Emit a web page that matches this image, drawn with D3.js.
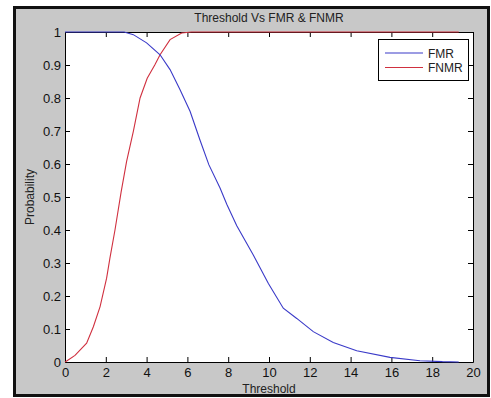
<!DOCTYPE html>
<html>
<head>
<meta charset="utf-8">
<script src="https://cdn.jsdelivr.net/npm/d3@7"></script>
<style>
  html, body { margin: 0; padding: 0; background: #fff; }
  svg { display: block; font-family: "Liberation Sans", Arial, sans-serif; }
</style>
</head>
<body>
<div id="chart"></div>
<script>
// FMR / FNMR curves (threshold, probability)
const fmrThreshold = [0, 1, 2, 2.9, 3.35, 4.0, 4.66, 5.15, 5.64, 6.13, 6.62, 7.05, 7.6, 7.93, 8.42, 9.23, 9.97, 10.7, 11.36, 12.17, 13.15, 14.3, 15.93, 17.4, 18.5, 19.3];
const fmrValues    = [1, 1, 1, 1, 0.992, 0.967, 0.931, 0.886, 0.825, 0.76, 0.672, 0.598, 0.527, 0.478, 0.413, 0.324, 0.238, 0.163, 0.132, 0.092, 0.059, 0.034, 0.014, 0.004, 0.001, 0];

const fnmrThreshold = [0, 0.1, 0.49, 1.06, 1.39, 1.72, 2.04, 2.2, 2.45, 2.75, 3.02, 3.35, 3.68, 4.03, 4.4, 4.66, 5.15, 5.72, 6.2, 19.3];
const fnmrValues    = [0, 0.004, 0.02, 0.057, 0.107, 0.168, 0.254, 0.314, 0.4, 0.515, 0.608, 0.699, 0.8, 0.86, 0.9, 0.931, 0.977, 0.997, 1, 1];

const xTicks = d3.range(0, 21, 2);
const yTicks = d3.range(0, 11).map(i => i / 10);

const seriesNames = ['FMR', 'FNMR'];
const seriesColors = ['#3a3ac8', '#d0303f'];

const width = 491, height = 398;
const margin = { top: 32, right: 18, bottom: 36, left: 65 };
const innerW = width - margin.left - margin.right;
const innerH = height - margin.top - margin.bottom;

const svg = d3.select('#chart').append('svg')
  .attr('width', width)
  .attr('height', height);

// figure background with dark frame
svg.append('rect')
  .attr('x', 14.5).attr('y', 7.5)
  .attr('width', 474).attr('height', 388)
  .attr('fill', '#c8c8c8')
  .attr('stroke', '#111')
  .attr('stroke-width', 3);

const g = svg.append('g')
  .attr('transform', `translate(${margin.left},${margin.top})`);

const x = d3.scaleLinear().domain([0, 20]).range([0, innerW]);
const y = d3.scaleLinear().domain([0, 1]).range([innerH, 0]);

g.append('rect')
  .attr('width', innerW).attr('height', innerH)
  .attr('fill', '#fff');

// axes, matlab style ticks pointing inward on all four sides
const tickFont = g => g.selectAll('text')
  .attr('fill', '#111')
  .style('font-size', '13px');

g.append('g')
  .attr('transform', `translate(0,${innerH})`)
  .call(d3.axisBottom(x).tickValues(xTicks).tickSizeInner(-5).tickSizeOuter(0).tickPadding(6))
  .call(tickFont)
  .call(a => a.select('.domain').attr('stroke', '#000'));

g.append('g')
  .call(d3.axisTop(x).tickValues(xTicks).tickSizeInner(-5).tickSizeOuter(0).tickFormat(''))
  .call(a => a.select('.domain').attr('stroke', '#000'));

g.append('g')
  .call(d3.axisLeft(y).tickValues(yTicks).tickSizeInner(-5).tickSizeOuter(0).tickPadding(4).tickFormat(d3.format('~g')))
  .call(tickFont)
  .call(a => a.select('.domain').attr('stroke', '#000'));

g.append('g')
  .attr('transform', `translate(${innerW},0)`)
  .call(d3.axisRight(y).tickValues(yTicks).tickSizeInner(-5).tickSizeOuter(0).tickFormat(''))
  .call(a => a.select('.domain').attr('stroke', '#000'));

g.selectAll('.tick line').attr('stroke', '#000');

// curves drawn over the axes, like matlab does
const line = d3.line()
  .x(d => x(d[0]))
  .y(d => y(d[1]));

const fmr = fmrThreshold.map((t, i) => [t, fmrValues[i]]);
const fnmr = fnmrThreshold.map((t, i) => [t, fnmrValues[i]]);

g.append('path')
  .datum(fnmr)
  .attr('fill', 'none')
  .attr('stroke', seriesColors[1])
  .attr('stroke-width', 1.1)
  .attr('d', line);

g.append('path')
  .datum(fmr)
  .attr('fill', 'none')
  .attr('stroke', seriesColors[0])
  .attr('stroke-width', 1.1)
  .attr('d', line);

// titles
svg.append('text')
  .attr('x', margin.left + innerW / 2)
  .attr('y', 22)
  .attr('text-anchor', 'middle')
  .style('font-size', '12px')
  .attr('fill', '#222')
  .text('Threshold Vs FMR & FNMR');

svg.append('text')
  .attr('x', margin.left + innerW / 2)
  .attr('y', 393)
  .attr('text-anchor', 'middle')
  .style('font-size', '12px')
  .attr('fill', '#222')
  .text('Threshold');

svg.append('text')
  .attr('transform', `translate(34,${margin.top + innerH / 2}) rotate(-90)`)
  .attr('text-anchor', 'middle')
  .style('font-size', '12px')
  .attr('fill', '#222')
  .text('Probability');

// legend
const legend = svg.append('g')
  .attr('transform', 'translate(378,39)');

legend.append('rect')
  .attr('x', 0.5).attr('y', 0.5)
  .attr('width', 90).attr('height', 41)
  .attr('fill', '#fff')
  .attr('stroke', '#000');

const items = legend.selectAll('.legend-item')
  .data(seriesNames)
  .enter()
  .append('g')
  .attr('class', 'legend-item')
  .attr('transform', (d, i) => `translate(0,${14 + i * 14.5})`);

items.append('line')
  .attr('x1', 7).attr('x2', 45)
  .attr('stroke', (d, i) => seriesColors[i])
  .attr('stroke-width', 1.1);

items.append('text')
  .attr('x', 50)
  .attr('y', 4.5)
  .style('font-size', '12px')
  .attr('fill', '#222')
  .text(d => d);
</script>
</body>
</html>
